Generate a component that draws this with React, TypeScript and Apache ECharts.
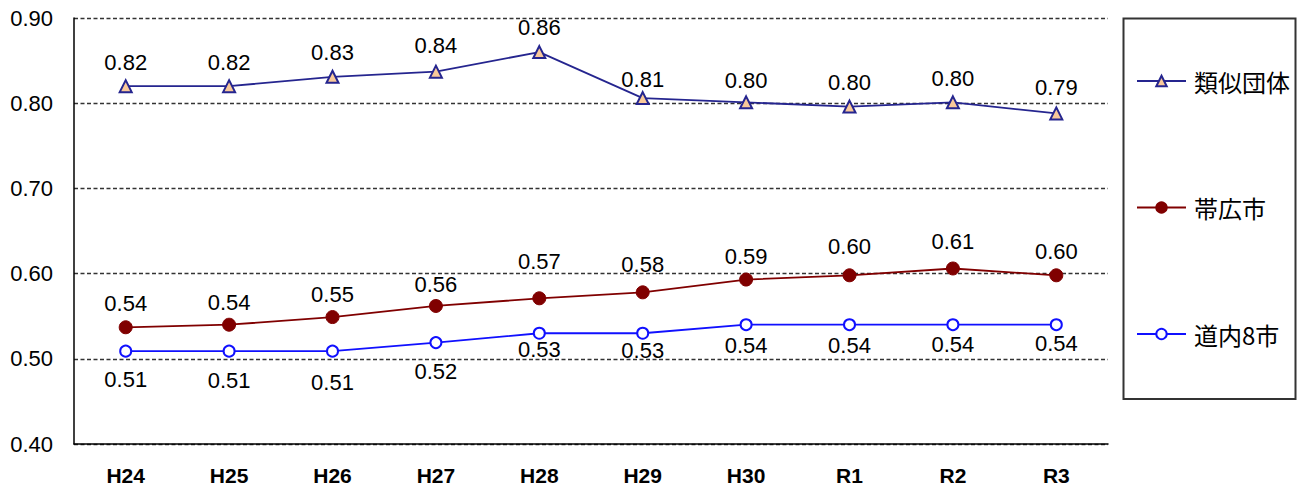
import React, { useEffect, useRef } from "react";
import * as echarts from "echarts";

const categories = ["H24", "H25", "H26", "H27", "H28", "H29", "H30", "R1", "R2", "R3"];
const ruijiDantai = [0.82, 0.82, 0.831, 0.837, 0.86, 0.806, 0.801, 0.796, 0.801, 0.788];
const obihiro = [0.537, 0.54, 0.549, 0.562, 0.571, 0.578, 0.593, 0.598, 0.606, 0.598];
const dounai8 = [0.509, 0.509, 0.509, 0.519, 0.53, 0.53, 0.54, 0.54, 0.54, 0.54];
const yTicks = [0.4, 0.5, 0.6, 0.7, 0.8, 0.9];
const legendNames = ["類似団体", "帯広市", "道内8市"];

// label offsets (px) from the marker, as placed in the original
const ruijiLabelOffset = [24, 24, 24, 26, 25, 19, 22, 24, 24, 26];
const obihiroLabelOffset = [24, 22, 23, 21, 37, 28, 23, 29, 27, 24];
const dounaiLabelOffset = [28, 29, 31, 29, 16, 17, 21, 21, 20, 19];

const FONT = "'Liberation Sans', Arial, sans-serif";

export default function App() {
  const ref = useRef<HTMLDivElement>(null);
  useEffect(() => {
    if (!ref.current) return;
    const chart = echarts.init(ref.current, undefined, { renderer: "svg" });
    const fmt = (p: any) => Number(p.value).toFixed(2);
    const labelStyle = {
      show: true,
      position: "inside",
      fontSize: 22,
      lineHeight: 22,
      color: "#000",
      fontFamily: FONT,
      formatter: fmt,
    };
    const build = (vals: number[], offs: number[], sign: number) =>
      vals.map((v, i) => ({ value: v, label: { offset: [0, sign * offs[i]] } }));

    chart.setOption({
      animation: false,
      textStyle: { fontFamily: FONT },
      grid: { left: 74, right: 191, top: 18, bottom: 45 },
      graphic: [
        {
          type: "rect",
          shape: { x: 1123.5, y: 18.5, width: 172, height: 380.5 },
          style: { fill: "#fff", stroke: "#333", lineWidth: 2 },
          z: -1,
        },
      ],
      legend: {
        orient: "vertical",
        left: 1131,
        top: 64,
        itemGap: 102.5,
        itemWidth: 49,
        itemHeight: 13,
        textStyle: {
          fontSize: 24,
          lineHeight: 24,
          color: "#000",
          fontFamily: "'Noto Sans CJK JP', sans-serif",
          padding: [0, 0, 0, 3],
        },
        data: legendNames,
      },
      xAxis: {
        type: "category",
        data: categories,
        boundaryGap: true,
        axisLine: { lineStyle: { color: "#000", width: 1.5 } },
        axisTick: { inside: true, length: 8, lineStyle: { color: "#000", width: 1.5 } },
        axisLabel: { fontSize: 21, lineHeight: 21, fontWeight: "bold", color: "#000", margin: 21, fontFamily: FONT },
      },
      yAxis: {
        type: "value",
        min: yTicks[0],
        max: yTicks[yTicks.length - 1],
        interval: 0.1,
        axisLine: { show: true, lineStyle: { color: "#000", width: 1.5 } },
        axisTick: { show: false },
        axisLabel: {
          fontSize: 22,
          color: "#000",
          margin: 21,
          fontFamily: FONT,
          formatter: (v: number) => v.toFixed(2),
        },
        splitLine: { show: true, lineStyle: { color: "#333", type: [4, 2.5], width: 1.4 } },
      },
      series: [
        {
          name: legendNames[0],
          type: "line",
          data: build(ruijiDantai, ruijiLabelOffset, -1),
          symbol: "triangle",
          symbolSize: 12,
          lineStyle: { color: "#25258f", width: 1.8 },
          itemStyle: { color: "#f9c99a", borderColor: "#25258f", borderWidth: 2 },
          label: labelStyle,
        },
        {
          name: legendNames[1],
          type: "line",
          data: build(obihiro, obihiroLabelOffset, -1),
          symbol: "circle",
          symbolSize: 13,
          lineStyle: { color: "#800000", width: 1.8 },
          itemStyle: { color: "#800000", borderColor: "#800000", borderWidth: 1 },
          label: labelStyle,
        },
        {
          name: legendNames[2],
          type: "line",
          data: build(dounai8, dounaiLabelOffset, 1),
          symbol: "circle",
          symbolSize: 11,
          lineStyle: { color: "#1010ff", width: 1.8 },
          itemStyle: { color: "#fff", borderColor: "#1010ff", borderWidth: 2 },
          label: labelStyle,
        },
      ],
    });
    return () => chart.dispose();
  }, []);
  return (
    <div
      ref={ref}
      style={{ position: "absolute", left: 0, top: 0, width: 1299, height: 489 }}
    />
  );
}
